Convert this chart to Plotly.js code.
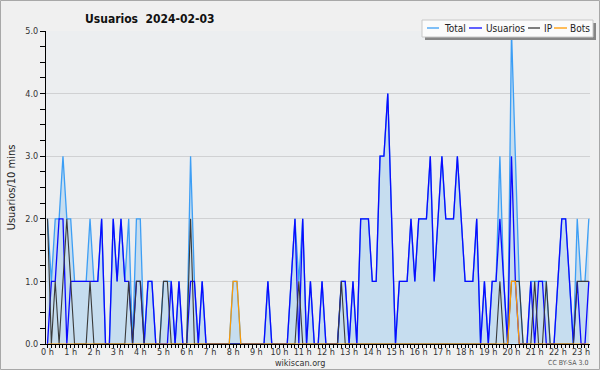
<!DOCTYPE html>
<html>
<head>
<meta charset="utf-8">
<script src="https://cdn.plot.ly/plotly-3.0.1.min.js"></script>
<style>
  html, body { margin: 0; padding: 0; background: #f0f0f0; }
  #chart { width: 600px; height: 370px; }
</style>
</head>
<body>
<div id="chart"></div>
<script>
// ---- data: one value every 10 minutes, 00:00 .. 23:20 ----
var seriesNames = ["Total", "Usuarios", "IP", "Bots"];

var total = [
  2,1,2,2,3,2,  2,1,1,1,1,2,  1,1,2,0,0,2,  1,2,1,2,0,2,
  2,0,1,1,0,0,  1,1,1,0,1,0,  0,3,1,0,1,0,  0,0,0,0,0,0,
  1,1,0,0,0,0,  0,0,0,1,0,0,  0,0,0,1,2,1,  2,0,1,0,0,1,
  0,0,0,0,1,1,  0,1,0,2,2,2,  1,1,3,3,4,2,  0,1,1,1,2,1,
  2,2,2,3,1,2,  3,2,2,2,3,2,  1,1,1,2,0,1,  0,1,1,3,1,0,
  5,3,1,0,0,1,  1,1,1,1,0,0,  1,2,2,1,0,2,  1,1,2
];
var usuarios = [
  0,1,1,2,2,0,  1,1,1,1,1,1,  1,1,2,0,0,2,  1,2,1,1,0,1,
  1,0,1,1,0,0,  0,0,1,0,1,0,  0,1,1,0,1,0,  0,0,0,0,0,0,
  0,0,0,0,0,0,  0,0,0,1,0,0,  0,0,0,1,2,0,  2,0,1,0,0,1,
  0,0,0,0,1,1,  0,1,0,2,2,2,  1,1,3,3,4,2,  0,1,1,1,2,1,
  2,2,2,3,1,2,  3,2,2,2,3,2,  1,1,1,2,0,1,  0,1,1,2,1,0,
  3,1,0,0,0,1,  0,1,1,0,0,0,  1,2,2,1,0,1,  0,0,1
];
var ip = [
  2,0,1,0,1,2,  1,0,0,0,0,1,  0,0,0,0,0,0,  0,0,0,1,0,1,
  1,0,0,0,0,0,  1,1,0,0,0,0,  0,2,0,0,0,0,  0,0,0,0,0,0,
  0,0,0,0,0,0,  0,0,0,0,0,0,  0,0,0,0,0,1,  0,0,0,0,0,0,
  0,0,0,0,1,0,  0,0,0,0,0,0,  0,0,0,0,0,0,  0,0,0,0,0,0,
  0,0,0,0,0,0,  0,0,0,0,0,0,  0,0,0,0,0,0,  0,0,0,1,0,0,
  1,1,1,0,0,0,  1,0,0,1,0,0,  0,0,0,0,0,1,  1,1,1
];
var bots = [
  0,0,0,0,0,0,  0,0,0,0,0,0,  0,0,0,0,0,0,  0,0,0,0,0,0,
  0,0,0,0,0,0,  0,0,0,0,0,0,  0,0,0,0,0,0,  0,0,0,0,0,0,
  1,1,0,0,0,0,  0,0,0,0,0,0,  0,0,0,0,0,0,  0,0,0,0,0,0,
  0,0,0,0,0,0,  0,0,0,0,0,0,  0,0,0,0,0,0,  0,0,0,0,0,0,
  0,0,0,0,0,0,  0,0,0,0,0,0,  0,0,0,0,0,0,  0,0,0,0,0,0,
  1,1,0,0,0,0,  0,0,0,0,0,0,  0,0,0,0,0,0,  0,0,0
];

var hourTicks = [0,1,2,3,4,5,6,7,8,9,10,11,12,13,14,15,16,17,18,19,20,21,22,23];
var hourLabels = ["0 h","1 h","2 h","3 h","4 h","5 h","6 h","7 h","8 h","9 h","10 h","11 h",
                  "12 h","13 h","14 h","15 h","16 h","17 h","18 h","19 h","20 h","21 h","22 h","23 h"];
var yTicks = [0,1,2,3,4,5];
var yLabels = ["0.0","1.0","2.0","3.0","4.0","5.0"];

var chartTitle = "Usuarios\u00a0\u00a02024-02-03";
var yTitle = "Usuarios/10 mins";

// time of each sample in hours (10-minute steps)
var times = total.map(function (_, i) { return i / 6; });

var colors = ["#3c9ef5", "#0a0aff", "#3a3a3a", "#ff9a00"];
var FONT = "DejaVu Sans Condensed, Liberation Sans Narrow, DejaVu Sans, sans-serif";

// ---- layout helpers (plot area: x 46..590 px, y 31..344 px) ----
var L = 46, R = 590, T = 31, B = 344;
function px(x) { return (x - L) / (R - L); }
function py(y) { return (B - y) / (B - T); }

var traces = [
  { x: times, y: total, name: seriesNames[0], type: "scatter", mode: "lines",
    fill: "tozeroy", fillcolor: "#c6ddef", line: { color: colors[0], width: 1.3 } },
  { x: times, y: usuarios, name: seriesNames[1], type: "scatter", mode: "lines",
    line: { color: colors[1], width: 1.3 } },
  { x: times, y: ip, name: seriesNames[2], type: "scatter", mode: "lines",
    line: { color: colors[2], width: 1.1 } },
  { x: times, y: bots, name: seriesNames[3], type: "scatter", mode: "lines",
    line: { color: colors[3], width: 1.2 } }
];

// manual legend
var shapes = [
  // outer frame
  { type: "rect", xref: "paper", yref: "paper", x0: px(0.5), x1: px(599.5), y0: py(369.5), y1: py(0.5),
    line: { color: "#a8a8a8", width: 1 }, fillcolor: "rgba(0,0,0,0)", layer: "above" },
  // legend shadow
  { type: "rect", xref: "paper", yref: "paper", x0: px(425), x1: px(596), y0: py(40), y1: py(23),
    line: { width: 0 }, fillcolor: "#868686", layer: "above" },
  // legend box
  { type: "rect", xref: "paper", yref: "paper", x0: px(422), x1: px(593), y0: py(37), y1: py(20),
    line: { color: "#c8c8c8", width: 1 }, fillcolor: "#fbfbfb", layer: "above" }
];
var legendLine = [[427, 439], [469, 482], [528, 540], [554, 567]];
var legendText = [443, 485, 543, 569];
var annotations = [];
for (var k = 0; k < seriesNames.length; k++) {
  shapes.push({ type: "line", xref: "paper", yref: "paper",
    x0: px(legendLine[k][0]), x1: px(legendLine[k][1]), y0: py(28), y1: py(28),
    line: { color: colors[k], width: 1.3 }, layer: "above" });
  annotations.push({ xref: "paper", yref: "paper", x: px(legendText[k] - 1), y: py(28.5),
    xanchor: "left", yanchor: "middle", showarrow: false, text: seriesNames[k],
    font: { family: FONT, size: 10, color: "#222" } });
}
annotations.push({ xref: "paper", yref: "paper", x: px(300), y: py(362.5), xanchor: "center", yanchor: "middle",
  showarrow: false, text: "wikiscan.org", font: { family: FONT, size: 9, color: "#333" } });
annotations.push({ xref: "paper", yref: "paper", x: px(590), y: py(363), xanchor: "right", yanchor: "middle",
  showarrow: false, text: "CC BY-SA 3.0", font: { family: FONT, size: 7, color: "#555" } });

var layout = {
  width: 600, height: 370,
  margin: { l: L, r: 600 - R, t: T, b: 370 - B, pad: 0 },
  paper_bgcolor: "#f0f0f0",
  plot_bgcolor: "#eceef0",
  showlegend: false,
  font: { family: FONT, color: "#222" },
  title: { text: "<b>" + chartTitle + "</b>", xref: "container", yref: "container",
           x: 85 / 600, xanchor: "left", y: 1 - 19 / 370, yanchor: "middle",
           font: { family: FONT, size: 12, color: "#111" } },
  xaxis: {
    range: [-1.5 / 23.2, (R - 47.5) / 23.2],
    tickvals: hourTicks, ticktext: hourLabels,
    showline: true, linecolor: "#000", linewidth: 1,
    ticks: "outside", ticklen: 3, tickcolor: "#000", tickwidth: 1,
    tickfont: { family: FONT, size: 9, color: "#333" },
    ticklabelstandoff: -4,
    showgrid: false, zeroline: false,
    minor: { tick0: 0, dtick: 1 / 6, ticks: "outside", ticklen: 3, tickcolor: "#000", showgrid: false }
  },
  yaxis: {
    range: [0, 5],
    tickvals: yTicks, ticktext: yLabels,
    showline: true, linecolor: "#000", linewidth: 1,
    ticks: "outside", ticklen: 5, tickcolor: "#000", tickwidth: 1,
    tickfont: { family: FONT, size: 9, color: "#333" },
    showgrid: true, gridcolor: "#d0d1d3", gridwidth: 1, zeroline: false,
    minor: { tick0: 0, dtick: 0.25, ticks: "outside", ticklen: 5, tickcolor: "#000", showgrid: false },
    title: { text: yTitle, font: { family: FONT, size: 11, color: "#222" }, standoff: 7 }
  },
  shapes: shapes,
  annotations: annotations
};

Plotly.newPlot("chart", traces, layout, { staticPlot: true, displayModeBar: false });
</script>
</body>
</html>
